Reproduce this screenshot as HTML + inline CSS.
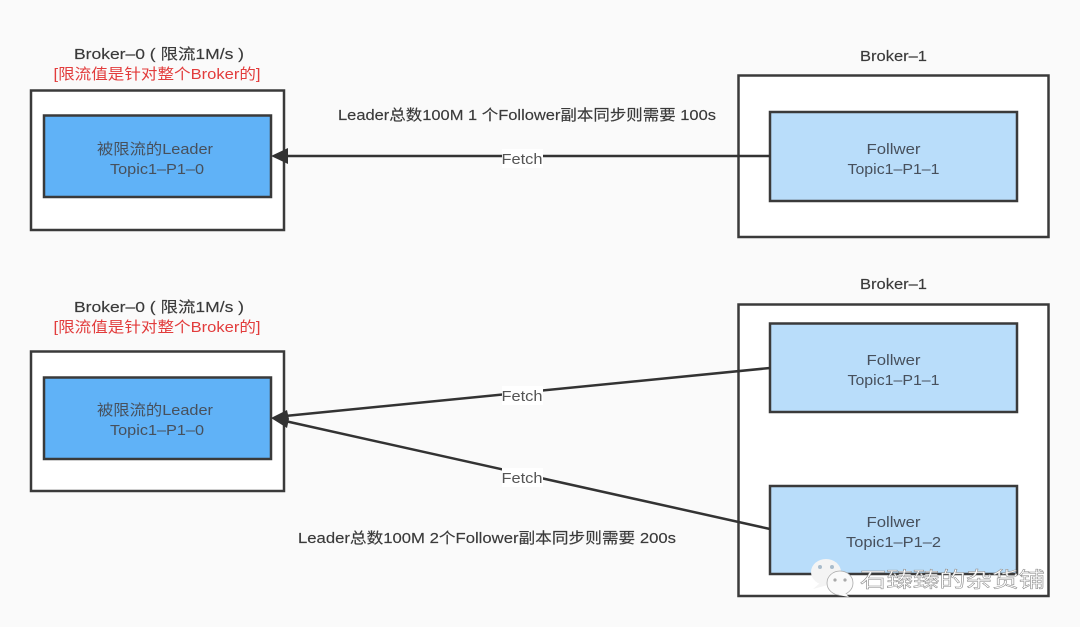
<!DOCTYPE html>
<html>
<head>
<meta charset="utf-8">
<style>
html,body{margin:0;padding:0;background:#fafafa;width:1080px;height:627px;overflow:hidden}
svg{display:block}
text{font-family:"Liberation Sans","Noto Sans CJK SC",sans-serif;font-size:15px;fill:#47505c;text-anchor:middle}
.f{fill:#555}
.b{fill:#3a3a3a;stroke:#3a3a3a;stroke-width:.15px}
.r{fill:#e23c3c}
.box{stroke:#3a3a3a;stroke-width:2.5}
.ln{stroke:#333;stroke-width:2.5;fill:none}
</style>
</head>
<body>
<svg width="1080" height="627" viewBox="0 0 1080 627" xmlns="http://www.w3.org/2000/svg">
<rect width="1080" height="627" fill="#fafafa"/>

<!-- top row -->
<rect class="box" x="31" y="90.500" width="253" height="139.500" fill="#fff"/>
<rect class="box" x="44" y="115.500" width="227" height="81.500" fill="#60b2f7"/>
<rect class="box" x="738.500" y="75.500" width="310" height="161.500" fill="#fff"/>
<rect class="box" x="770" y="112" width="247" height="89" fill="#b9ddfa"/>

<line class="ln" x1="770" y1="156" x2="285" y2="156"/>
<polygon points="271,156 288,148 288,164" fill="#333"/>
<rect x="502" y="149" width="41" height="19" fill="#fff"/>
<text class="f" x="522" y="164" textLength="41" lengthAdjust="spacingAndGlyphs">Fetch</text>

<text class="b" x="159" y="59" textLength="170" lengthAdjust="spacingAndGlyphs">Broker–0 ( 限流1M/s )</text>
<text class="r" x="157" y="79" textLength="207" lengthAdjust="spacingAndGlyphs">[限流值是针对整个Broker的]</text>
<text x="155" y="154" textLength="116" lengthAdjust="spacingAndGlyphs">被限流的Leader</text>
<text x="157" y="174" textLength="94" lengthAdjust="spacingAndGlyphs">Topic1–P1–0</text>
<text class="b" x="893.500" y="61" textLength="67" lengthAdjust="spacingAndGlyphs">Broker–1</text>
<text x="893.500" y="154" textLength="54" lengthAdjust="spacingAndGlyphs">Follwer</text>
<text x="893.500" y="174" textLength="92" lengthAdjust="spacingAndGlyphs">Topic1–P1–1</text>
<text class="b" x="527" y="120" textLength="378" lengthAdjust="spacingAndGlyphs">Leader总数100M 1 个Follower副本同步则需要 100s</text>

<!-- bottom row -->
<rect class="box" x="31" y="351.500" width="253" height="139.500" fill="#fff"/>
<rect class="box" x="44" y="377.500" width="227" height="81.500" fill="#60b2f7"/>
<rect class="box" x="738.500" y="304.500" width="310" height="291.500" fill="#fff"/>
<rect class="box" x="770" y="323.500" width="247" height="88.500" fill="#b9ddfa"/>
<rect class="box" x="770" y="486" width="247" height="88" fill="#b9ddfa"/>

<line class="ln" x1="770" y1="368" x2="285" y2="416"/>
<line class="ln" x1="770" y1="529" x2="285" y2="421"/>
<polygon points="271,418 287,410 289,419 287,428" fill="#333"/>
<rect x="502" y="386" width="41" height="19" fill="#fff"/>
<text class="f" x="522" y="401" textLength="41" lengthAdjust="spacingAndGlyphs">Fetch</text>
<rect x="502" y="468" width="41" height="19" fill="#fff"/>
<text class="f" x="522" y="483" textLength="41" lengthAdjust="spacingAndGlyphs">Fetch</text>

<text class="b" x="159" y="312" textLength="170" lengthAdjust="spacingAndGlyphs">Broker–0 ( 限流1M/s )</text>
<text class="r" x="157" y="332" textLength="207" lengthAdjust="spacingAndGlyphs">[限流值是针对整个Broker的]</text>
<text x="155" y="415" textLength="116" lengthAdjust="spacingAndGlyphs">被限流的Leader</text>
<text x="157" y="435" textLength="94" lengthAdjust="spacingAndGlyphs">Topic1–P1–0</text>
<text class="b" x="893.500" y="289" textLength="67" lengthAdjust="spacingAndGlyphs">Broker–1</text>
<text x="893.500" y="365" textLength="54" lengthAdjust="spacingAndGlyphs">Follwer</text>
<text x="893.500" y="385" textLength="92" lengthAdjust="spacingAndGlyphs">Topic1–P1–1</text>
<text x="893.500" y="527" textLength="54" lengthAdjust="spacingAndGlyphs">Follwer</text>
<text x="893.500" y="547" textLength="95" lengthAdjust="spacingAndGlyphs">Topic1–P1–2</text>
<text class="b" x="487" y="543" textLength="378" lengthAdjust="spacingAndGlyphs">Leader总数100M 2个Follower副本同步则需要 200s</text>

<!-- watermark -->
<ellipse cx="826" cy="572" rx="15" ry="13" fill="#f4f4f4"/>
<polygon points="820,583 813,589 828,585" fill="#f4f4f4"/>
<circle cx="820" cy="567" r="2" fill="#a9bccb"/>
<circle cx="832" cy="567" r="2" fill="#a9bccb"/>
<ellipse cx="840" cy="583" rx="13" ry="12" fill="#fafafa" stroke="#aaa" stroke-width=".8"/>
<polygon points="845,593 849,597 838,595" fill="#fafafa"/>
<circle cx="835" cy="580" r="1.600" fill="#aaa"/>
<circle cx="845" cy="580" r="1.600" fill="#aaa"/>
<text x="952.500" y="587" textLength="185" lengthAdjust="spacingAndGlyphs" style="font-size:21px;fill:#fff;stroke:#888;stroke-width:.5px">石臻臻的杂货铺</text>
</svg>
</body>
</html>
